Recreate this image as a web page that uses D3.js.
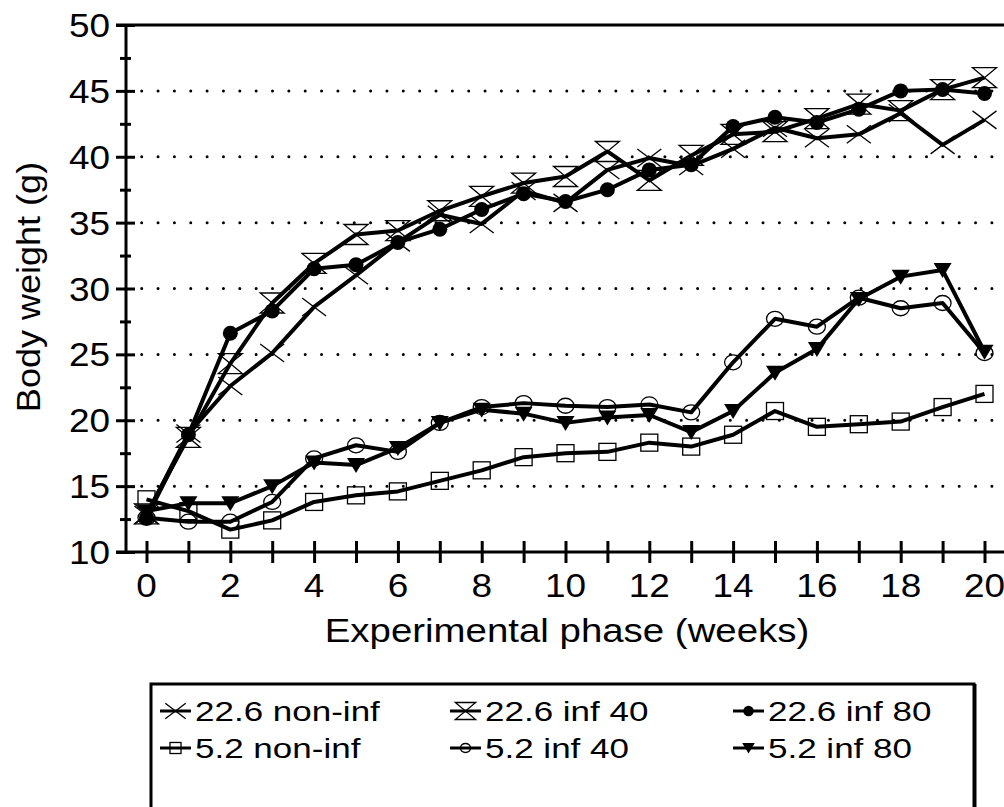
<!DOCTYPE html>
<html>
<head>
<meta charset="utf-8">
<script src="https://cdn.jsdelivr.net/npm/d3@7"></script>
<style>
  body { margin: 0; background: #fff; }
  text { font-family: "Liberation Sans", Arial, sans-serif; fill: #000; }
</style>
</head>
<body>
<script>
// weeks 0..20
const weeks = d3.range(0, 21);
const yTicks = [10, 15, 20, 25, 30, 35, 40, 45, 50];
const gridValues = [15, 20, 25, 30, 35, 40, 45];

const nonInf226 = [12.8, 19.0, 22.6, 25.1, 28.6, 31.0, 33.5, 35.6, 34.9, 37.4, 36.5, 39.0, 39.9, 39.3, 40.6, 42.2, 41.4, 41.7, 43.3, 40.9, 42.8];
const inf40_226 = [12.9, 18.7, 24.3, 28.9, 31.9, 34.1, 34.4, 35.9, 37.0, 38.0, 38.5, 40.4, 38.2, 40.1, 41.7, 41.9, 42.9, 44.0, 43.5, 45.1, 46.0];
const inf80_226 = [12.6, 18.9, 26.6, 28.3, 31.5, 31.8, 33.5, 34.5, 36.0, 37.2, 36.6, 37.5, 39.0, 39.4, 42.3, 43.0, 42.6, 43.6, 45.0, 45.1, 44.8];
const nonInf52 = [14.0, 13.1, 11.7, 12.4, 13.8, 14.3, 14.6, 15.4, 16.2, 17.2, 17.5, 17.6, 18.3, 18.0, 18.9, 20.7, 19.5, 19.7, 19.9, 21.0, 22.0];
const inf40_52 = [12.6, 12.3, 12.3, 13.8, 17.1, 18.1, 17.6, 19.8, 21.0, 21.3, 21.1, 21.0, 21.2, 20.6, 24.4, 27.7, 27.1, 29.3, 28.5, 28.9, 25.1];
const inf80_52 = [13.1, 13.7, 13.7, 15.0, 16.8, 16.6, 17.9, 19.8, 20.8, 20.5, 19.8, 20.2, 20.4, 19.1, 20.7, 23.6, 25.4, 29.2, 30.9, 31.4, 25.2];

const seriesNames = ["22.6 non-inf", "22.6 inf 40", "22.6 inf 80", "5.2 non-inf", "5.2 inf 40", "5.2 inf 80"];
const seriesValues = [nonInf226, inf40_226, inf80_226, nonInf52, inf40_52, inf80_52];
const seriesMarks = ["cross", "hourglass", "dot", "square", "ring", "triangle"];

const W = 1004, H = 807;
const svg = d3.select("body").append("svg")
    .attr("width", W)
    .attr("height", H);

const x = d3.scaleLinear().domain([0, 20]).range([146.5, 984.5]);
const y = d3.scaleLinear().domain([10, 50]).range([552, 25]);
const axisX = 126;

// marker shapes, centred on 0,0
function drawMark(g, type, s) {
    if (type === "cross") {
        g.append("path").attr("d", `M${-12*s},${-9*s}L${12*s},${9*s}M${-12*s},${9*s}L${12*s},${-9*s}`)
            .attr("fill", "none").attr("stroke", "#000").attr("stroke-width", 1.3);
    } else if (type === "hourglass") {
        g.append("path").attr("d", `M${-12*s},${-10*s}L${12*s},${-10*s}L${-12*s},${10*s}L${12*s},${10*s}Z`)
            .attr("fill", "none").attr("stroke", "#000").attr("stroke-width", 1.3);
    } else if (type === "dot") {
        g.append("circle").attr("r", 7.5 * s).attr("fill", "#000");
    } else if (type === "square") {
        g.append("rect").attr("x", -8.5*s).attr("y", -8.5*s).attr("width", 17*s).attr("height", 17*s)
            .attr("fill", "none").attr("stroke", "#000").attr("stroke-width", 1.3);
    } else if (type === "ring") {
        g.append("ellipse").attr("rx", 8.5*s).attr("ry", 7.5*s)
            .attr("fill", "none").attr("stroke", "#000").attr("stroke-width", 1.3);
    } else if (type === "triangle") {
        g.append("path").attr("d", `M${-9*s},${-7*s}L${9*s},${-7*s}L0,${8*s}Z`).attr("fill", "#000");
    }
}

// text that is a bit wider than the font draws it
function label(parent, str, px, py, size, anchor, sx, rot) {
    return parent.append("text")
        .attr("transform", `translate(${px},${py})` + (rot ? ` rotate(${rot})` : "") + ` scale(${sx},1)`)
        .attr("font-size", size)
        .attr("text-anchor", anchor)
        .text(str);
}

// dotted grid
svg.append("g").selectAll("line")
    .data(gridValues)
    .join("line")
    .attr("x1", 141.7).attr("x2", 1000)
    .attr("y1", d => y(d)).attr("y2", d => y(d))
    .attr("stroke", "#000")
    .attr("stroke-width", 3)
    .attr("stroke-linecap", "round")
    .attr("stroke-dasharray", "0 16.35");

// top frame line
svg.append("line")
    .attr("x1", 116).attr("x2", W).attr("y1", y(50)).attr("y2", y(50))
    .attr("stroke", "#000").attr("stroke-width", 3);

// x axis
const gx = svg.append("g")
    .attr("transform", `translate(0,${y(10)})`)
    .call(d3.axisBottom(x).tickValues(weeks).tickSize(11).tickFormat(d => d % 2 ? "" : d));
gx.select(".domain").remove();
gx.selectAll(".tick line").attr("y1", -11).attr("y2", 11).attr("stroke-width", 3);
gx.selectAll(".tick text").remove();
gx.append("line").attr("x1", 116).attr("x2", W).attr("stroke", "#000").attr("stroke-width", 3);
weeks.filter(d => d % 2 === 0).forEach(d => label(svg, d, x(d), 597, 33, "middle", 1.12));

// y axis
const gy = svg.append("g")
    .attr("transform", `translate(${axisX},0)`)
    .call(d3.axisLeft(y).tickValues(d3.range(10, 50.1, 2.5)).tickFormat(""));
gy.select(".domain").remove();
gy.selectAll(".tick line")
    .attr("x1", d => d % 5 ? -6 : -10)
    .attr("x2", d => d % 5 ? 5 : 9)
    .attr("stroke-width", 3);
gy.append("line").attr("y1", y(50)).attr("y2", y(10)).attr("stroke", "#000").attr("stroke-width", 3);
yTicks.forEach(d => label(svg, d, 110, y(d) + 12, 33, "end", 1.12));

// axis titles
label(svg, "Experimental phase (weeks)", 567, 642, 34, "middle", 1.13);
label(svg, "Body weight (g)", 40, 287, 34, "middle", 1.06, -90);

// series lines and markers
const line = d3.line().x((d, i) => x(weeks[i])).y(d => y(d));
seriesValues.forEach((vals, k) => {
    svg.append("path")
        .datum(vals)
        .attr("d", line)
        .attr("fill", "none")
        .attr("stroke", "#000")
        .attr("stroke-width", 4)
        .attr("stroke-linejoin", "round");
});
seriesValues.forEach((vals, k) => {
    svg.append("g").selectAll("g")
        .data(vals)
        .join("g")
        .attr("transform", (d, i) => `translate(${x(weeks[i])},${y(d)})`)
        .each(function () { drawMark(d3.select(this), seriesMarks[k], 1); });
});

// legend
const legend = svg.append("g");
legend.append("rect")
    .attr("x", 151).attr("y", 684).attr("width", 823).attr("height", 140)
    .attr("fill", "#fff").attr("stroke", "#000").attr("stroke-width", 3);
legend.append("line")
    .attr("x1", 975.5).attr("x2", 975.5).attr("y1", 684).attr("y2", H)
    .attr("stroke", "#000").attr("stroke-width", 2);
const colX = [160, 450, 733];
const rowY = [711, 748];
const markScale = [0.85, 0.85, 0.7, 0.65, 0.6, 0.7];
seriesNames.forEach((name, k) => {
    const cx = colX[k % 3], cy = rowY[Math.floor(k / 3)];
    const item = legend.append("g").attr("transform", `translate(${cx},${cy})`);
    item.append("line").attr("x1", 0).attr("x2", 31).attr("stroke", "#000").attr("stroke-width", 3);
    const m = item.append("g").attr("transform", "translate(15.5,0)");
    drawMark(m, seriesMarks[k], markScale[k]);
    label(item, name, 35, 10, 28, "start", 1.25);
});
</script>
</body>
</html>
